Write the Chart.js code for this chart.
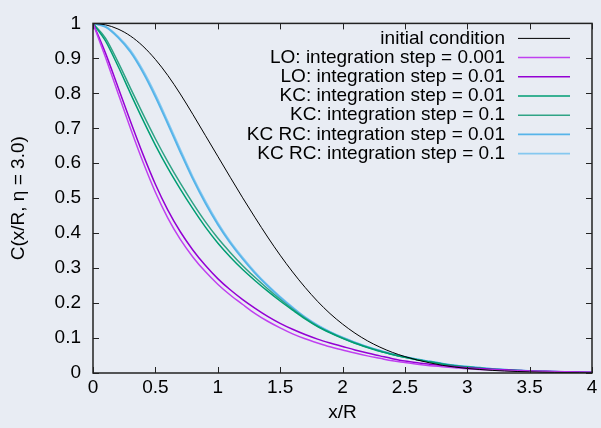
<!DOCTYPE html>
<html>
<head>
<meta charset="utf-8">
<script src="https://cdn.jsdelivr.net/npm/chart.js@4.4.1/dist/chart.umd.min.js"></script>
<style>
    html, body { margin: 0; padding: 0; background: #e8ecf3; }
    #wrap { width: 601px; height: 428px; }
</style>
</head>
<body>
<div id="wrap"><canvas id="profileChart" width="601" height="428"></canvas></div>
<script>
const xValues = [0.0, 0.1, 0.2, 0.3, 0.4, 0.5, 0.6, 0.7, 0.8, 0.9,
    1.0, 1.1, 1.2, 1.3, 1.4, 1.5, 1.6, 1.7, 1.8, 1.9,
    2.0, 2.1, 2.2, 2.3, 2.4, 2.5, 2.6, 2.7, 2.8, 2.9,
    3.0, 3.1, 3.2, 3.3, 3.4, 3.5, 3.6, 3.7, 3.8, 3.9, 4.0];

const initialCondition = [1.000, 0.996, 0.984, 0.964, 0.935, 0.897, 0.851, 0.798, 0.740, 0.680,
    0.620, 0.560, 0.501, 0.444, 0.389, 0.337, 0.289, 0.245, 0.205, 0.170,
    0.140, 0.114, 0.092, 0.074, 0.059, 0.047, 0.037, 0.029, 0.022, 0.017,
    0.013, 0.010, 0.0075, 0.0057, 0.0043, 0.0032, 0.0024, 0.0018, 0.0013, 0.0009, 0.0006];

const loStep0001 = [1.000, 0.903, 0.801, 0.700, 0.604, 0.517, 0.443, 0.382, 0.332, 0.290,
    0.254, 0.223, 0.196, 0.170, 0.148, 0.129, 0.112, 0.098, 0.086, 0.075,
    0.066, 0.057, 0.049, 0.042, 0.035, 0.030, 0.025, 0.021, 0.018, 0.015,
    0.012, 0.010, 0.0085, 0.007, 0.0058, 0.0048, 0.004, 0.0033, 0.0027, 0.0022, 0.0018];

const loStep001 = [1.000, 0.915, 0.818, 0.720, 0.626, 0.540, 0.466, 0.404, 0.352, 0.308,
    0.270, 0.238, 0.210, 0.185, 0.162, 0.142, 0.125, 0.110, 0.097, 0.086,
    0.076, 0.066, 0.057, 0.049, 0.041, 0.034, 0.029, 0.025, 0.021, 0.018,
    0.015, 0.013, 0.011, 0.009, 0.0075, 0.006, 0.005, 0.004, 0.0033, 0.0027, 0.0022];

const kcStep001 = [1.000, 0.950, 0.878, 0.800, 0.724, 0.652, 0.586, 0.526, 0.470, 0.418,
    0.372, 0.332, 0.296, 0.264, 0.234, 0.206, 0.180, 0.155, 0.133, 0.115,
    0.099, 0.085, 0.073, 0.062, 0.053, 0.045, 0.038, 0.032, 0.026, 0.021,
    0.017, 0.014, 0.011, 0.009, 0.0073, 0.0058, 0.0045, 0.0035, 0.0026, 0.0019, 0.0014];

const kcStep01 = [1.000, 0.958, 0.890, 0.815, 0.741, 0.670, 0.604, 0.543, 0.486, 0.433,
    0.386, 0.345, 0.307, 0.273, 0.241, 0.211, 0.183, 0.157, 0.134, 0.116,
    0.100, 0.086, 0.074, 0.063, 0.053, 0.045, 0.038, 0.032, 0.026, 0.021,
    0.017, 0.014, 0.011, 0.009, 0.0073, 0.0058, 0.0045, 0.0035, 0.0026, 0.0019, 0.0014];

const kcrcStep001 = [1.000, 0.990, 0.960, 0.918, 0.860, 0.790, 0.712, 0.632, 0.555, 0.486,
    0.425, 0.372, 0.326, 0.285, 0.249, 0.216, 0.186, 0.159, 0.136, 0.117,
    0.101, 0.087, 0.075, 0.064, 0.054, 0.046, 0.039, 0.033, 0.027, 0.022,
    0.018, 0.015, 0.012, 0.0095, 0.0075, 0.006, 0.0047, 0.0036, 0.0027, 0.002, 0.0015];

const kcrcStep01 = [1.000, 0.991, 0.963, 0.923, 0.866, 0.797, 0.719, 0.639, 0.561, 0.492,
    0.430, 0.376, 0.330, 0.288, 0.251, 0.218, 0.188, 0.160, 0.137, 0.118,
    0.102, 0.088, 0.075, 0.064, 0.054, 0.046, 0.039, 0.033, 0.027, 0.022,
    0.018, 0.015, 0.012, 0.0095, 0.0075, 0.006, 0.0047, 0.0036, 0.0027, 0.002, 0.0015];

const seriesLabels = [
    'initial condition',
    'LO: integration step = 0.001',
    'LO: integration step = 0.01',
    'KC: integration step = 0.01',
    'KC: integration step = 0.1',
    'KC RC: integration step = 0.01',
    'KC RC: integration step = 0.1',
];
const seriesValues = [initialCondition, loStep0001, loStep001, kcStep001, kcStep01, kcrcStep001, kcrcStep01];
const seriesColors = ['#000000', '#c040f0', '#9400d3', '#009e73', '#2fa385', '#56b4e9', '#85c8f0'];
const seriesWidths = [1, 1.5, 1.5, 1.5, 1.5, 1.8, 1.8];

const xTicks = [0, 0.5, 1, 1.5, 2, 2.5, 3, 3.5, 4];
const yTicks = [0, 0.1, 0.2, 0.3, 0.4, 0.5, 0.6, 0.7, 0.8, 0.9, 1];

const FONT = { family: '"Liberation Sans", Arial, sans-serif', size: 19 };

// gnuplot-style border, inward mirrored ticks and key inside the plot
const framePlugin = {
    id: 'frame',
    afterDatasetsDraw(chart) {
        const { ctx, chartArea: a, scales } = chart;
        ctx.save();
        ctx.strokeStyle = '#222';
        ctx.lineWidth = 1;
        ctx.beginPath();
        scales.x.ticks.forEach((t) => {
            const px = Math.round(scales.x.getPixelForValue(t.value)) + 0.5;
            ctx.moveTo(px, a.bottom); ctx.lineTo(px, a.bottom - 6);
            ctx.moveTo(px, a.top); ctx.lineTo(px, a.top + 6);
        });
        scales.y.ticks.forEach((t) => {
            const py = Math.round(scales.y.getPixelForValue(t.value)) + 0.5;
            ctx.moveTo(a.left, py); ctx.lineTo(a.left + 6, py);
            ctx.moveTo(a.right, py); ctx.lineTo(a.right - 6, py);
        });
        ctx.stroke();
        ctx.lineWidth = 1.5;
        ctx.strokeRect(a.left, a.top, a.right - a.left, a.bottom - a.top);

        // key
        ctx.font = `${FONT.size}px ${FONT.family}`;
        ctx.textAlign = 'right';
        ctx.textBaseline = 'middle';
        const textRight = a.right - 87;
        const lineStart = a.right - 74;
        const lineEnd = a.right - 22;
        chart.data.datasets.forEach((ds, i) => {
            const y = a.top + 15 + i * 19.2;
            ctx.fillStyle = '#000';
            ctx.fillText(ds.label, textRight, y);
            ctx.strokeStyle = ds.borderColor;
            ctx.lineWidth = ds.borderWidth;
            ctx.beginPath();
            ctx.moveTo(lineStart, y);
            ctx.lineTo(lineEnd, y);
            ctx.stroke();
        });
        ctx.restore();
    },
};

new Chart(document.getElementById('profileChart'), {
    type: 'line',
    data: {
        datasets: seriesLabels.map((label, i) => ({
            label,
            data: xValues.map((x, k) => ({ x, y: seriesValues[i][k] })),
            borderColor: seriesColors[i],
            borderWidth: seriesWidths[i],
            pointRadius: 0,
            cubicInterpolationMode: 'monotone',
            fill: false,
        })),
    },
    options: {
        responsive: false,
        animation: false,
        layout: { padding: { top: 14, right: 9, left: 0, bottom: 0 } },
        scales: {
            x: {
                type: 'linear',
                min: 0,
                max: 4,
                afterBuildTicks: (s) => { s.ticks = xTicks.map((v) => ({ value: v })); },
                afterFit: (s) => { s.height = 55; },
                grid: { display: false, drawTicks: false },
                border: { display: false },
                ticks: { color: '#000', font: FONT, padding: 3, maxRotation: 0, callback: (v) => String(v) },
                title: { display: true, text: 'x/R', color: '#000', font: FONT, padding: { top: 0, bottom: 4 } },
            },
            y: {
                type: 'linear',
                min: 0,
                max: 1,
                afterBuildTicks: (s) => { s.ticks = yTicks.map((v) => ({ value: v })); },
                afterFit: (s) => { s.width = 93; },
                grid: { display: false, drawTicks: false },
                border: { display: false },
                ticks: { color: '#000', font: FONT, padding: 12, callback: (v) => String(Number(v.toFixed(1))) },
                title: { display: true, text: 'C(x/R, η = 3.0)', color: '#000', font: FONT, padding: { top: 7, bottom: 0 } },
            },
        },
        plugins: {
            legend: { display: false },
            tooltip: { enabled: false },
        },
    },
    plugins: [framePlugin],
});
</script>
</body>
</html>
